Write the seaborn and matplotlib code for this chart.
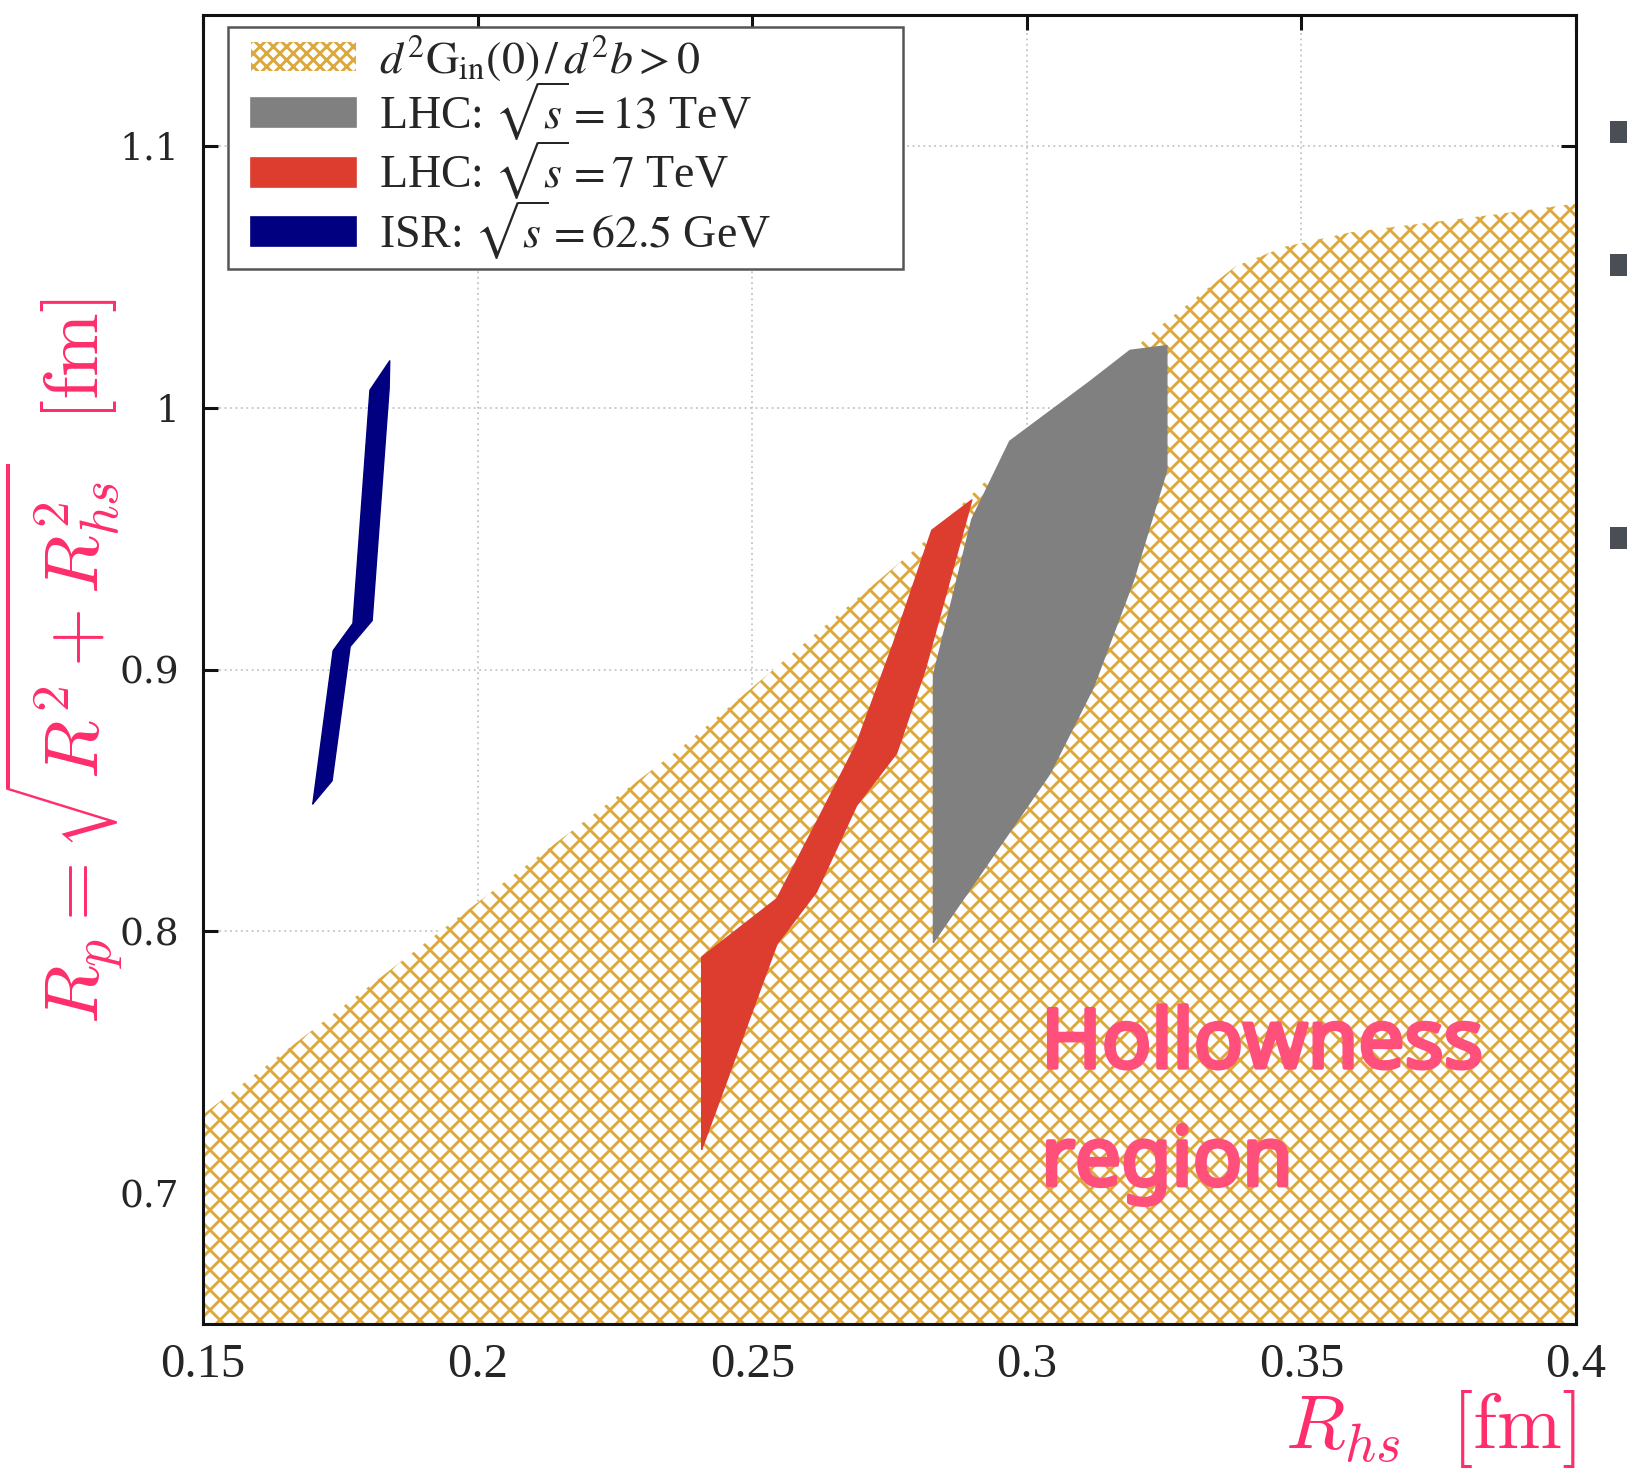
import matplotlib
matplotlib.use("Agg")
import matplotlib.pyplot as plt
import matplotlib.patheffects as pe
import numpy as np
import pandas as pd
import seaborn as sns
from matplotlib.patches import Patch, Rectangle
from matplotlib.legend_handler import HandlerPatch
from matplotlib.font_manager import FontProperties

# ---------------- data ----------------
x_ticks = [0.15, 0.20, 0.25, 0.30, 0.35, 0.40]
x_tick_labels = ["0.15", "0.2", "0.25", "0.3", "0.35", "0.4"]
y_ticks = [0.7, 0.8, 0.9, 1.0, 1.1]
y_tick_labels = ["0.7", "0.8", "0.9", "1", "1.1"]
x_range = [0.15, 0.40]
y_range = [0.65, 1.15]

# upper boundary of the region d2Gin(0)/d2b > 0
hollow_x = [0.150, 0.200, 0.237, 0.282, 0.2915, 0.310, 0.323, 0.338, 0.347, 0.359, 0.386, 0.400]
hollow_y = [0.730, 0.811, 0.870, 0.950, 0.970, 1.004, 1.029, 1.054, 1.0615, 1.067, 1.074, 1.078]

# LHC 13 TeV band (polygon)
lhc13_x = [0.2830, 0.2830, 0.2900, 0.2969, 0.3115, 0.3188, 0.3255, 0.3255, 0.3194, 0.3121, 0.3042]
lhc13_y = [0.7958, 0.8978, 0.9574, 0.9872, 1.0100, 1.0219, 1.0237, 0.9763, 0.9339, 0.8931, 0.8602]

# LHC 7 TeV band (polygon)
lhc7_x = [0.2408, 0.2408, 0.2545, 0.2617, 0.2690, 0.2757, 0.2827, 0.2900,
          0.2815, 0.2763, 0.2690, 0.2617, 0.2545]
lhc7_y = [0.7167, 0.7901, 0.8125, 0.8416, 0.8716, 0.9099, 0.9532, 0.9648,
          0.9000, 0.8680, 0.8480, 0.8150, 0.7951]

# ISR 62.5 GeV band (polygon)
isr_x = [0.1700, 0.1737, 0.1773, 0.1804, 0.1840, 0.1839, 0.1808, 0.1768, 0.1735]
isr_y = [0.8487, 0.9072, 0.9176, 1.0067, 1.0179, 1.0075, 0.9187, 0.9088, 0.8575]

legend_labels = [r"$d^2\mathrm{G}_{\mathrm{in}}(0)\,/\,d^2b>0$",
                 r"LHC: $\sqrt{s}=13$ TeV",
                 r"LHC: $\sqrt{s}=7$ TeV",
                 r"ISR: $\sqrt{s}=62.5$ GeV"]

# ---------------- style ----------------
GOLD = "#DCA83C"
GRAY = "#808080"
RED = "#DC3D2F"
NAVY = "#000080"
PINK = "#FF2D6B"
PINK2 = "#FF4F7B"

DPI = 120
S = 100 / DPI  # sizes below were tuned in points at 100 dpi


def pt(v):
    return v * S


sns.set_theme(style="ticks")
plt.rcParams.update({
    "font.family": ["Liberation Serif", "DejaVu Serif"],
    "mathtext.fontset": "stix",
    "hatch.linewidth": pt(2.1),
    "hatch.color": GOLD,
    "axes.linewidth": pt(2.2),
    "axes.edgecolor": "#111111",
})

fig = plt.figure(figsize=(1627 / DPI, 1476 / DPI), dpi=DPI)
ax = fig.add_axes([203 / 1627, 152 / 1476, 1373 / 1627, 1309 / 1476])

ax.set_xlim(*x_range)
ax.set_ylim(*y_range)
ax.set_axisbelow(True)
ax.grid(True, ls=(0, (1, 2)), color="#c4c4c4", lw=pt(1.3), zorder=0)

# hatched region
ax.fill_between(hollow_x, y_range[0], hollow_y, facecolor="white",
                edgecolor=GOLD, hatch="xx", linewidth=0, zorder=1)

# bands
for bx, by, col in [(lhc13_x, lhc13_y, GRAY), (lhc7_x, lhc7_y, RED), (isr_x, isr_y, NAVY)]:
    ax.fill(bx, by, color=col, lw=0, zorder=2)
    df = pd.DataFrame({"x": list(bx) + [bx[0]], "y": list(by) + [by[0]]})
    sns.lineplot(data=df, x="x", y="y", sort=False, estimator=None, color=col,
                 lw=pt(1.0), ax=ax, zorder=3, legend=False)

ax.set_xticks(x_ticks)
ax.set_xticklabels(x_tick_labels, fontfamily="Liberation Serif", fontsize=pt(35))
ax.set_yticks(y_ticks)
ax.set_yticklabels(y_tick_labels, fontfamily="DejaVu Serif", fontsize=pt(27))
ax.tick_params(axis="both", direction="in", length=pt(11), width=pt(2.2), color="#111111",
               top=True, right=True)
ax.tick_params(axis="x", pad=pt(14))
ax.tick_params(axis="y", pad=pt(17))

ax.set_xlabel(r"$R_{hs}\ \ [\mathrm{fm}]$", fontsize=pt(56), color=PINK, math_fontfamily="cm")
ax.xaxis.set_label_coords(1.0, -0.080)
ax.xaxis.label.set_ha("right")
ax.xaxis.label.set_va("center")

ax.set_ylabel(r"$R_p = \sqrt{R^2 + R_{hs}^2}\ \ [\mathrm{fm}]$", fontsize=pt(55),
              color=PINK, math_fontfamily="cm")
ax.yaxis.set_label_coords(-0.102, 0.5065)
ax.yaxis.label.set_va("center")

# legend
LEG_FS = pt(33)
OFFSET_PX = 16  # extra left inset of the handle swatches


def shifted_patch(legend, orig_handle, xdescent, ydescent, width, height, fontsize):
    off = OFFSET_PX * 72 / DPI
    return Rectangle((-xdescent + off, -ydescent), width - off, height)


handles = [Patch(facecolor="white", edgecolor=GOLD, hatch="xxx", lw=0),
           Patch(color=GRAY), Patch(color=RED), Patch(color=NAVY)]
leg = ax.legend(handles, legend_labels, loc="upper left",
                bbox_to_anchor=(0.0182, 0.5, 0.4916, 0.4908), mode="expand",
                borderaxespad=0,
                prop=FontProperties(family="Liberation Serif", size=LEG_FS, math_fontfamily="stix"),
                handlelength=2.3 + OFFSET_PX / 45.8, handleheight=0.6, handletextpad=0.5,
                labelspacing=-0.09, borderpad=0.15, fancybox=False, framealpha=1,
                edgecolor="#555555",
                handler_map={Patch: HandlerPatch(patch_func=shifted_patch)})
leg.get_frame().set_linewidth(pt(1.8))
leg.set_zorder(10)

# annotation
ax.text(0.3026, 0.772, "Hollowness\nregion", fontfamily="Noto Sans", fontsize=pt(59),
        color=PINK2, va="top", ha="left", linespacing=1.55, zorder=6,
        path_effects=[pe.withStroke(linewidth=pt(3), foreground=PINK2)])

# slide bullets cut at the right edge
for top in [121, 254, 527]:
    fig.add_artist(Rectangle((1610 / 1627, 1 - (top + 22) / 1476), 20 / 1627, 22 / 1476,
                             transform=fig.transFigure, color="#4A4E55", lw=0))

fig.savefig("out.png", dpi=DPI)
